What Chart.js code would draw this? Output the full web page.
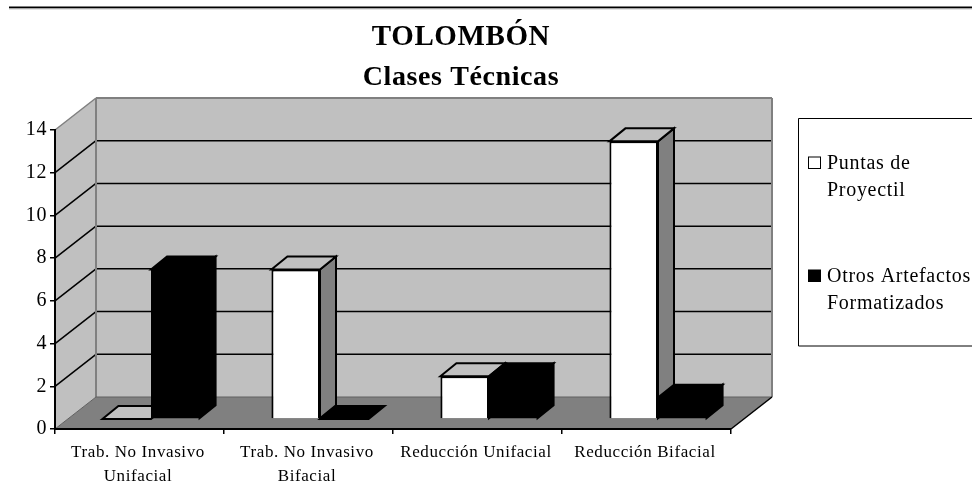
<!DOCTYPE html>
<html>
<head>
<meta charset="utf-8">
<style>
  html, body { margin: 0; padding: 0; background: #fff; }
  canvas { display: block; }
</style>
</head>
<body>
<canvas id="chart" width="972" height="491"></canvas>
<script src="https://cdn.jsdelivr.net/npm/chart.js@4"></script>
<script>
const categories = [
  ['Trab. No Invasivo', 'Unifacial'],
  ['Trab. No Invasivo', 'Bifacial'],
  ['Reducción Unifacial'],
  ['Reducción Bifacial']
];
const puntas = [0, 7, 2, 13];
const otros = [7, 0, 2, 1];
const legendPuntas = ['Puntas de', 'Proyectil'];
const legendOtros = ['Otros Artefactos', 'Formatizados'];

const serif = '"Liberation Serif", "Times New Roman", serif';
const wallDepth = { x: 41, y: -32 };
const barShift = { x: 11.5, y: -10 };
const barDepth = { x: 16, y: -13 };

function poly(ctx, pts, fill, stroke, width) {
  ctx.beginPath();
  pts.forEach((p, i) => (i ? ctx.lineTo(p[0], p[1]) : ctx.moveTo(p[0], p[1])));
  ctx.closePath();
  ctx.fillStyle = fill;
  ctx.fill();
  if (stroke) {
    ctx.strokeStyle = stroke;
    ctx.lineWidth = width;
    ctx.lineJoin = 'miter';
    ctx.stroke();
  }
}

function line(ctx, x1, y1, x2, y2, color, width) {
  ctx.beginPath();
  ctx.moveTo(x1, y1);
  ctx.lineTo(x2, y2);
  ctx.strokeStyle = color;
  ctx.lineWidth = width;
  ctx.stroke();
}

// walls, floor, rule on top of the page and the legend box
const room = {
  id: 'room',
  beforeDraw(chart) {
    const ctx = chart.ctx;
    const { left, right, top, bottom } = chart.chartArea;
    const y = chart.scales.y;
    const dx = wallDepth.x, dy = wallDepth.y;
    ctx.save();
    line(ctx, 9, 7.5, 972, 7.5, '#000', 2);
    line(ctx, 9, 9, 972, 9, '#c8c8c8', 1);

    poly(ctx, [[left + dx, top + dy], [right + dx, top + dy], [right + dx, bottom + dy], [left + dx, bottom + dy]], '#c0c0c0');
    poly(ctx, [[left, top], [left + dx, top + dy], [left + dx, bottom + dy], [left, bottom]], '#c0c0c0');
    poly(ctx, [[left, bottom], [left + dx, bottom + dy], [right + dx, bottom + dy], [right, bottom]], '#808080');

    y.ticks.forEach(t => {
      if (t.value === 0 || t.value === y.max) return;
      const py = y.getPixelForValue(t.value);
      line(ctx, left, py, left + dx, py + dy, '#000', 1.5);
      line(ctx, left + dx, py + dy, right + dx, py + dy, '#000', 1.5);
    });

    line(ctx, left, top, left + dx, top + dy, '#808080', 1.5);
    line(ctx, left + dx, top + dy, right + dx, top + dy, '#808080', 2);
    line(ctx, left + dx, top + dy, left + dx, bottom + dy, '#808080', 2);
    line(ctx, right + dx, top + dy, right + dx, bottom + dy, '#808080', 2);
    line(ctx, left + dx, bottom + dy, right + dx, bottom + dy, '#606060', 1);
    line(ctx, left, bottom, left + dx, bottom + dy, '#606060', 1);
    line(ctx, right, bottom, right + dx, bottom + dy, '#000', 1.5);
    ctx.restore();
    ctx.letterSpacing = '0.6px';
  },
  // side and top faces first, the library then paints the front faces over them
  beforeDatasetsDraw(chart) {
    const ctx = chart.ctx;
    ctx.save();
    ctx.translate(barShift.x, barShift.y);
    const dx = barDepth.x, dy = barDepth.y;
    categories.forEach((c, i) => {
      chart.data.datasets.forEach((ds, d) => {
        const bar = chart.getDatasetMeta(d).data[i];
        const l = bar.x - bar.width / 2, r = bar.x + bar.width / 2;
        const t = bar.y, b = bar.base;
        const dark = ds.backgroundColor === '#000000';
        if (b > t) {
          poly(ctx, [[r, t], [r + dx, t + dy], [r + dx, b + dy], [r, b]], dark ? '#000' : '#808080', '#000', 2);
        }
        poly(ctx, [[l, t], [l + dx, t + dy], [r + dx, t + dy], [r, t]], dark ? '#000' : '#c0c0c0', '#000', 2);
      });
    });
    ctx.restore();
    ctx.save();
    ctx.translate(barShift.x, barShift.y);
  },
  afterDatasetsDraw(chart) {
    chart.ctx.restore();
  },
  afterDraw(chart) {
    const ctx = chart.ctx;
    ctx.save();
    ctx.beginPath();
    ctx.moveTo(973, 118.5);
    ctx.lineTo(798.5, 118.5);
    ctx.lineTo(798.5, 346);
    ctx.lineTo(973, 346);
    ctx.strokeStyle = '#000';
    ctx.lineWidth = 1;
    ctx.stroke();

    ctx.font = '20px ' + serif;
    ctx.letterSpacing = '0.7px';
    ctx.textBaseline = 'alphabetic';
    ctx.textAlign = 'left';
    [legendPuntas, legendOtros].forEach((lines, i) => {
      const base = i === 0 ? 169 : 282;
      ctx.fillStyle = i === 0 ? '#fff' : '#000';
      ctx.strokeStyle = '#000';
      ctx.lineWidth = 1;
      ctx.fillRect(808.5, base - 12, 12, 11.5);
      ctx.strokeRect(808.5, base - 12, 12, 11.5);
      ctx.fillStyle = '#000';
      lines.forEach((txt, k) => ctx.fillText(txt, 827, base + k * 27));
    });
    ctx.restore();
  }
};

new Chart(document.getElementById('chart'), {
  type: 'bar',
  data: {
    labels: categories,
    datasets: [
      { label: 'Puntas de Proyectil', data: puntas, backgroundColor: '#ffffff', borderColor: '#000000', borderWidth: 2, categoryPercentage: 0.575, barPercentage: 1 },
      // no border here: the border and fill of a black bar leave a pale seam between them
      { label: 'Otros Artefactos Formatizados', data: otros, backgroundColor: '#000000', borderWidth: 0, categoryPercentage: 0.575, barPercentage: 1 }
    ]
  },
  plugins: [room],
  options: {
    responsive: false,
    animation: false,
    layout: { padding: { left: 0, right: 50, top: 0, bottom: 0 } },
    scales: {
      x: {
        offset: true,
        afterFit: s => { s.height = 62; },
        border: { display: true, color: '#000', width: 2 },
        grid: { drawOnChartArea: false, drawTicks: true, tickLength: 5, color: '#000', lineWidth: 1.5, offset: true },
        ticks: {
          color: '#000',
          maxRotation: 0,
          autoSkip: false,
          padding: 7,
          labelOffset: -1.5,
          font: { family: serif, size: 17, lineHeight: 1.38 }
        }
      },
      y: {
        min: 0,
        max: 14,
        afterFit: s => { s.width = 55; },
        border: { display: true, color: '#000', width: 2 },
        grid: { drawOnChartArea: false, drawTicks: true, tickLength: 5, color: '#000', lineWidth: 1.5 },
        ticks: {
          stepSize: 2,
          color: '#000',
          padding: 3,
          font: { family: serif, size: 20 }
        }
      },
      // empty axis, keeps the room at the right where the legend box goes
      legendRoom: {
        position: 'right',
        display: true,
        afterFit: s => { s.width = 191; },
        border: { display: false },
        grid: { display: false },
        ticks: { display: false }
      }
    },
    plugins: {
      legend: { display: false },
      tooltip: { enabled: false },
      title: {
        display: true,
        text: 'TOLOMBÓN',
        color: '#000',
        font: { family: serif, size: 29, weight: 'bold', lineHeight: 1.2 },
        padding: { top: 20, bottom: 4 }
      },
      subtitle: {
        display: true,
        text: 'Clases Técnicas',
        color: '#000',
        font: { family: serif, size: 28, weight: 'bold', lineHeight: 1.2 },
        padding: { top: 2, bottom: 35.6 }
      }
    }
  }
});
</script>
</body>
</html>
